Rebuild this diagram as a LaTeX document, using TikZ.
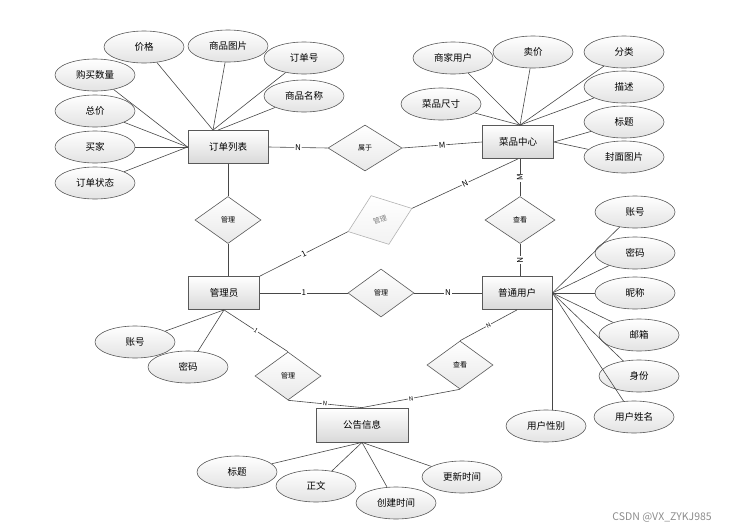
\documentclass[tikz,border=0pt]{standalone}
\usepackage{fontspec}
\setmainfont{Noto Sans CJK SC}
\usetikzlibrary{shapes.geometric,calc}
\tikzset{
  conn/.style={draw=black!72, line width=0.6pt},
  entity/.style={rectangle, draw=black!65, line width=0.8pt, top color=white, bottom color=black!15,
    minimum width=#1, minimum height=33pt, inner sep=0pt, font=\fontsize{9.5}{10}\selectfont},
  entity/.default=71pt,
  attr/.style={ellipse, draw=black!65, line width=0.6pt, top color=white, bottom color=black!11,
    minimum width=80pt, minimum height=32pt, inner sep=0pt, font=\fontsize{9.5}{10}\selectfont},
  rel/.style={diamond, draw=black!65, line width=0.6pt, top color=white, bottom color=black!9,
    minimum width=66pt, minimum height=47pt, inner sep=0pt, font=\fontsize{7}{7}\selectfont},
  faded/.style={rel, draw=black!30, bottom color=black!5, text=black!50, rotate=20,
    minimum width=68pt, minimum height=52pt},
  card/.style={fill=white, inner sep=0.8pt, sloped, font=\fontsize{8}{8}\selectfont},
  smallcard/.style={card, font=\fontsize{6}{6}\selectfont},
}
\begin{document}
\begin{tikzpicture}[x=1pt,y=-1pt]
\useasboundingbox (0,0) rectangle (729,530);
% entities
\node[entity=80pt] (order) at (228,147) {订单列表};
\node[entity] (dish) at (518,142) {菜品中心};
\node[entity] (admin) at (224,293) {管理员};
\node[entity=70pt] (user) at (517,293) {普通用户};
\node[entity=92pt, minimum height=34pt] (notice) at (362,425) {公告信息};
% relations
\node[rel, minimum width=74pt, minimum height=46pt] (belong) at (365,148) {属于};
\node[rel] (m1) at (228,220) {管理};
\node[faded] (fade) at (380,220) {管理};
\node[rel, minimum width=70pt] (see) at (520,220) {查看};
\node[rel, minimum height=48pt] (m2) at (381,293) {管理};
\node[rel, minimum height=48pt] (m3) at (288,376) {管理};
\node[rel, minimum height=48pt] (see2) at (460,365) {查看};
% order attributes
\node[attr] (o1) at (144,47) {价格};
\node[attr] (o2) at (228,46) {商品图片};
\node[attr] (o3) at (304,58) {订单号};
\node[attr] (o4) at (304,96) {商品名称};
\node[attr] (o5) at (95,75) {购买数量};
\node[attr] (o6) at (95,111) {总价};
\node[attr] (o7) at (95,147) {买家};
\node[attr] (o8) at (95,183) {订单状态};
% dish attributes
\node[attr] (d1) at (453,58) {商家用户};
\node[attr] (d2) at (533,52) {卖价};
\node[attr] (d3) at (624,52) {分类};
\node[attr] (d4) at (624,87) {描述};
\node[attr] (d5) at (624,122) {标题};
\node[attr] (d6) at (624,157) {封面图片};
\node[attr] (d7) at (441,104) {菜品尺寸};
% user attributes
\node[attr] (u1) at (635,212) {账号};
\node[attr] (u2) at (635,253) {密码};
\node[attr] (u3) at (635,293) {昵称};
\node[attr] (u4) at (639,335) {邮箱};
\node[attr] (u5) at (639,376) {身份};
\node[attr] (u6) at (634,417) {用户姓名};
\node[attr] (u7) at (546,426) {用户性别};
% admin attributes
\node[attr] (a1) at (135,342) {账号};
\node[attr] (a2) at (188,367) {密码};
% notice attributes
\node[attr] (n1) at (237,472) {标题};
\node[attr] (n2) at (316,486) {正文};
\node[attr] (n3) at (396,503) {创建时间};
\node[attr] (n4) at (462,477) {更新时间};
% watermark
\node[anchor=east, text=black!45, font=\fontsize{10.5}{11}\selectfont, inner sep=0pt] (wm) at (712,517) {CSDN @VX\_ZYKJ985};

% attribute connectors
\coordinate (ot) at ([xshift=-15pt]order.north);
\foreach \a in {o1,o2,o3} \draw[conn] (\a) -- (ot);
\draw[conn] (o4) -- ([xshift=-10pt]order.north);
\foreach \a in {o5,o6,o7,o8} \draw[conn] (\a) -- (order.west);
\coordinate (dt) at ([xshift=2pt]dish.north);
\foreach \a in {d1,d2,d3,d4,d7} \draw[conn] (\a) -- (dt);
\foreach \a in {d5,d6} \draw[conn] (\a) -- (dish.east);
\foreach \a in {u1,u2,u3,u4,u5,u6} \draw[conn] (\a) -- (user.east);
\draw[conn] (user.east) -- (user.east |- u7.north);
\foreach \a in {a1,a2} \draw[conn] (\a) -- (admin.south);
\foreach \a in {n1,n2,n3,n4} \draw[conn] (\a) -- (notice.south);

% relation connectors
\draw[conn] (order.east) -- node[card]{N} (belong.west);
\draw[conn] (belong.east) -- node[card]{M} (dish.west);
\draw[conn] (order.south) -- (m1.north);
\draw[conn] (m1.south) -- (m1.south |- admin.north);
\draw[conn] (admin.north east) -- node[card]{1} (fade.west);
\draw[conn] (fade.east) -- node[card]{N} (dish.south);
\draw[conn] (see.north) -- node[card]{M} (see.north |- dish.south);
\draw[conn] (see.south) -- node[card]{N} (see.south |- user.north);
\draw[conn] (admin.east) -- node[card]{1} (m2.west);
\draw[conn] (m2.east) -- node[card]{N} (user.west);
\draw[conn] (admin.south) -- node[smallcard]{1} (m3.north);
\draw[conn] (m3.south) -- node[smallcard]{N} (notice.north);
\draw[conn] (user.south) -- node[smallcard]{N} (see2.north);
\draw[conn] (see2.south) -- node[smallcard]{N} (notice.north);
\end{tikzpicture}
\end{document}
